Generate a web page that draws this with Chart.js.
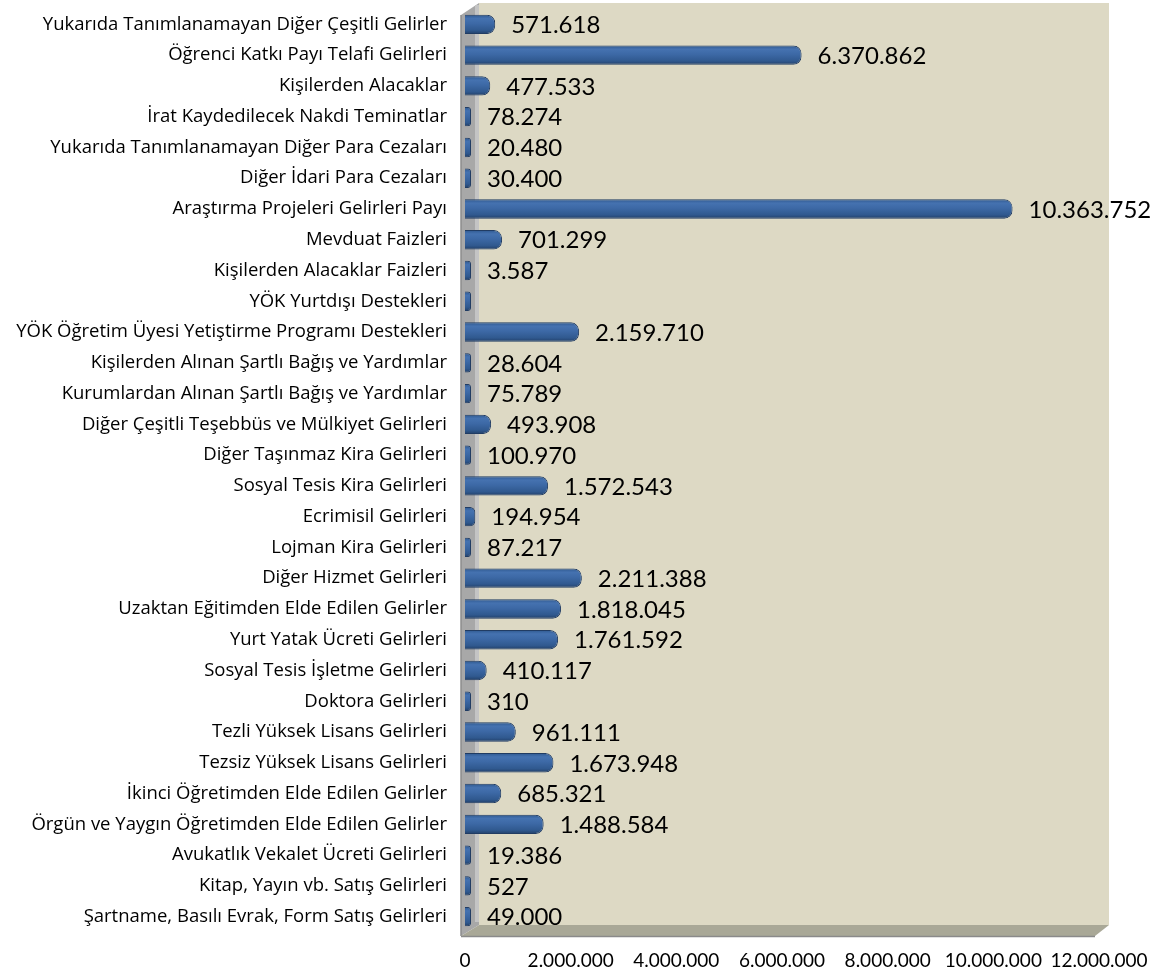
<!DOCTYPE html>
<html>
<head>
<meta charset="utf-8">
<script src="https://cdn.jsdelivr.net/npm/chart.js@4.4.0/dist/chart.umd.min.js"></script>
<style>
  body { margin: 0; background: #fff; }
  #wrap { width: 1158px; height: 974px; }
</style>
</head>
<body>
<div id="wrap"><canvas id="gelirChart"></canvas></div>
<script>
const categories = [
  "Yukarıda Tanımlanamayan Diğer Çeşitli Gelirler",
  "Öğrenci Katkı Payı Telafi Gelirleri",
  "Kişilerden Alacaklar",
  "İrat Kaydedilecek Nakdi Teminatlar",
  "Yukarıda Tanımlanamayan Diğer Para Cezaları",
  "Diğer İdari Para Cezaları",
  "Araştırma Projeleri Gelirleri Payı",
  "Mevduat Faizleri",
  "Kişilerden Alacaklar Faizleri",
  "YÖK Yurtdışı Destekleri",
  "YÖK Öğretim Üyesi Yetiştirme Programı Destekleri",
  "Kişilerden Alınan Şartlı Bağış ve Yardımlar",
  "Kurumlardan Alınan Şartlı Bağış ve Yardımlar",
  "Diğer Çeşitli Teşebbüs ve Mülkiyet Gelirleri",
  "Diğer Taşınmaz Kira Gelirleri",
  "Sosyal Tesis Kira Gelirleri",
  "Ecrimisil Gelirleri",
  "Lojman Kira Gelirleri",
  "Diğer Hizmet Gelirleri",
  "Uzaktan Eğitimden Elde Edilen Gelirler",
  "Yurt Yatak Ücreti Gelirleri",
  "Sosyal Tesis İşletme Gelirleri",
  "Doktora Gelirleri",
  "Tezli Yüksek Lisans Gelirleri",
  "Tezsiz Yüksek Lisans Gelirleri",
  "İkinci Öğretimden Elde Edilen Gelirler",
  "Örgün ve Yaygın Öğretimden Elde Edilen Gelirler",
  "Avukatlık Vekalet Ücreti Gelirleri",
  "Kitap, Yayın vb. Satış Gelirleri",
  "Şartname, Basılı Evrak, Form Satış Gelirleri"
];

const gelirler = [
  571618, 6370862, 477533, 78274, 20480, 30400, 10363752, 701299, 3587, 0,
  2159710, 28604, 75789, 493908, 100970, 1572543, 194954, 87217, 2211388, 1818045,
  1761592, 410117, 310, 961111, 1673948, 685321, 1488584, 19386, 527, 49000
];

const xTicks = [0, 2000000, 4000000, 6000000, 8000000, 10000000, 12000000];

const fontFam = "Lato, 'Liberation Sans', sans-serif";
const labelFont = "'Open Sans', 'Liberation Sans', sans-serif";
const barPct = 0.63;

function noktali(v) {
  return String(v).replace(/\B(?=(\d{3})+(?!\d))/g, ".");
}

// 3D walls behind the bars
const wallsPlugin = {
  id: "walls",
  beforeDatasetsDraw(chart) {
    const { ctx, chartArea: a } = chart;
    const d = 14, f = 4;
    ctx.save();
    // back wall
    ctx.fillStyle = "#DDD9C4";
    ctx.fillRect(a.left + d, a.top - 6, a.right - a.left - 4, a.bottom - a.top - 1);
    // left wall
    ctx.fillStyle = "#A8A8A8";
    ctx.beginPath();
    ctx.moveTo(a.left - f, a.top + 6);
    ctx.lineTo(a.left + d, a.top - 6);
    ctx.lineTo(a.left + d, a.bottom - 7);
    ctx.lineTo(a.left - f, a.bottom + 4);
    ctx.closePath();
    ctx.fill();
    ctx.fillStyle = "#C4C4C4";
    ctx.fillRect(a.left + d - 4, a.top - 4, 4, a.bottom - a.top - 6);
    ctx.strokeStyle = "#8C8C8C";
    ctx.lineWidth = 1.5;
    ctx.beginPath();
    ctx.moveTo(a.left - f, a.top + 6);
    ctx.lineTo(a.left - f, a.bottom + 4);
    ctx.stroke();
    // floor
    ctx.fillStyle = "#A9A897";
    ctx.beginPath();
    ctx.moveTo(a.left - f, a.bottom + 4);
    ctx.lineTo(a.left + d, a.bottom - 7);
    ctx.lineTo(a.right + 10, a.bottom - 7);
    ctx.lineTo(a.right - 4, a.bottom + 4);
    ctx.closePath();
    ctx.fill();
    ctx.strokeStyle = "#8A8A8A";
    ctx.beginPath();
    ctx.moveTo(a.left - f, a.bottom + 4.5);
    ctx.lineTo(a.right - 4, a.bottom + 4.5);
    ctx.stroke();
    ctx.restore();
  }
};

// value labels to the right of the bars
const valueLabels = {
  id: "valueLabels",
  afterDatasetsDraw(chart) {
    const { ctx } = chart;
    const meta = chart.getDatasetMeta(0);
    ctx.save();
    ctx.font = "24px " + fontFam;
    ctx.fillStyle = "#000";
    ctx.textAlign = "left";
    ctx.textBaseline = "middle";
    meta.data.forEach((bar, i) => {
      const v = gelirler[i];
      if (!v) return;
      ctx.fillText(noktali(v), bar.x + 16, bar.y + 1);
    });
    ctx.restore();
  }
};

function barGradient(c) {
  const chart = c.chart;
  const y = chart.scales.y;
  if (!y || !chart.chartArea) return "#3A66A2";
  const band = y.height / categories.length;
  const h = band * barPct;
  const cy = y.getPixelForValue(c.dataIndex);
  const g = chart.ctx.createLinearGradient(0, cy - h / 2, 0, cy + h / 2);
  g.addColorStop(0, "#2F5990");
  g.addColorStop(0.2, "#4572B0");
  g.addColorStop(0.45, "#3D69A6");
  g.addColorStop(0.8, "#30598F");
  g.addColorStop(1, "#223F68");
  return g;
}

const ctx = document.getElementById("gelirChart").getContext("2d");

const chart = new Chart(ctx, {
  type: "bar",
  data: {
    labels: categories,
    datasets: [
      {
        label: "Gelirler",
        data: gelirler,
        backgroundColor: barGradient,
        borderColor: "#213C63",
        borderWidth: 1,
        borderRadius: 8,
        borderSkipped: "start",
        minBarLength: 6,
        barPercentage: barPct,
        categoryPercentage: 1
      }
    ]
  },
  options: {
    indexAxis: "y",
    responsive: true,
    maintainAspectRatio: false,
    animation: false,
    layout: {
      padding: { top: 9, right: 59, bottom: 0, left: 0 }
    },
    scales: {
      x: {
        min: 0,
        max: 12000000,
        afterBuildTicks(scale) {
          scale.ticks = xTicks.map(v => ({ value: v }));
        },
        afterFit(scale) {
          scale.height = 42;
          scale.paddingLeft = 0;
          scale.paddingRight = 0;
        },
        grid: { display: false, drawTicks: false },
        border: { display: false },
        ticks: {
          color: "#000",
          padding: 17,
          font: { family: fontFam, size: 19 },
          maxRotation: 0,
          callback: v => noktali(v)
        }
      },
      y: {
        afterFit(scale) {
          scale.width = 465;
          scale.paddingTop = 0;
          scale.paddingBottom = 0;
        },
        grid: { display: false, drawTicks: false },
        border: { display: false },
        ticks: {
          color: "#000",
          padding: 18,
          autoSkip: false,
          font: { family: labelFont, size: 18.5 }
        }
      }
    },
    plugins: {
      legend: { display: false },
      tooltip: { enabled: false }
    }
  },
  plugins: [wallsPlugin, valueLabels]
});
</script>
</body>
</html>
